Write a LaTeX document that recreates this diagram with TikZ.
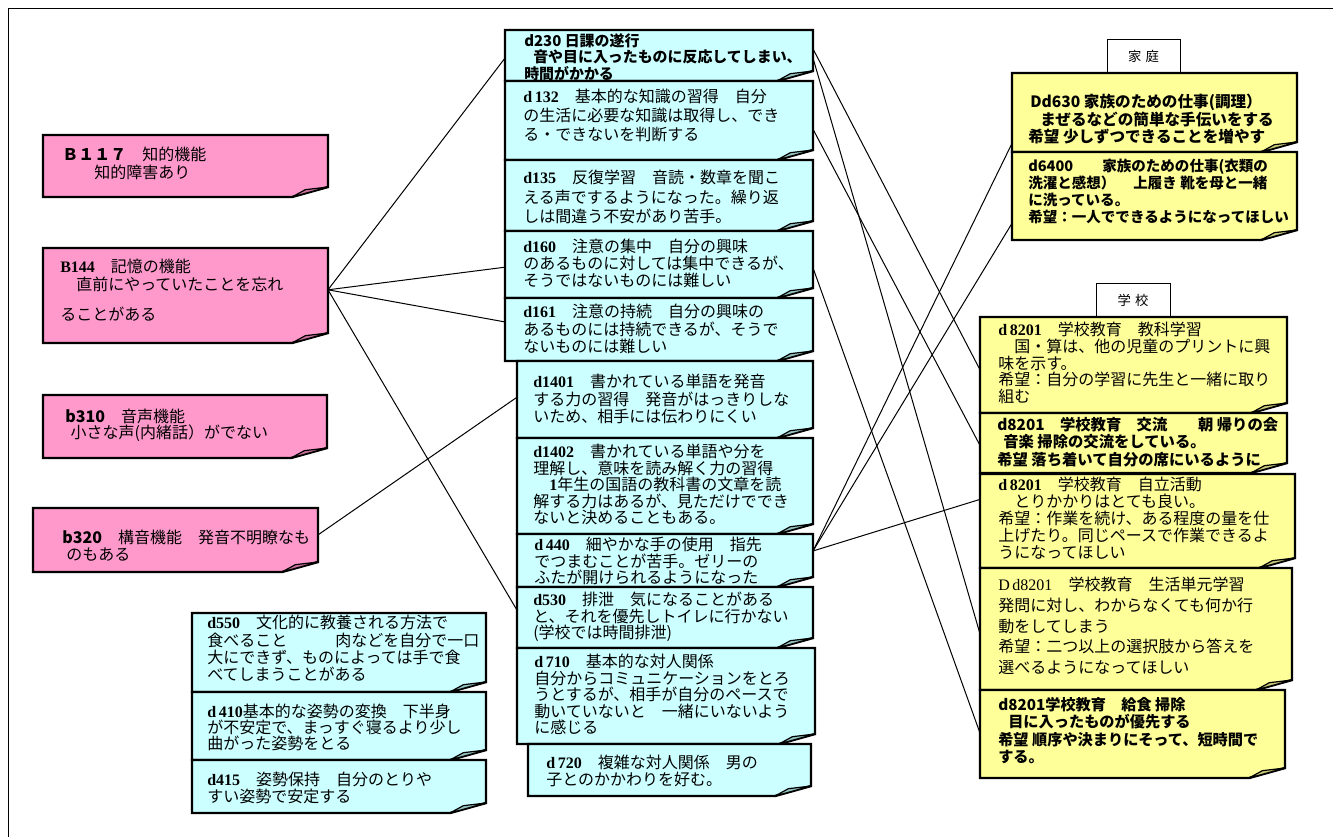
\documentclass[tikz,border=0pt]{standalone}
\usepackage{fontspec}
\setmainfont{Noto Sans CJK JP}
\newfontfamily\codeserif{Liberation Serif}
\usetikzlibrary{calc,fit}

\definecolor{cyanbox}{HTML}{CCFFFF}
\definecolor{cyanboxfold}{HTML}{94C2C2}
\definecolor{pinkbox}{HTML}{FF99CC}
\definecolor{pinkboxfold}{HTML}{C8709E}
\definecolor{yellowbox}{HTML}{FFFF99}
\definecolor{yellowboxfold}{HTML}{C8C878}

% bold serif item codes
\newcommand\cd[1]{{\codeserif\bfseries #1}}

\tikzset{
  notebody/.style={draw=black, line width=1.8pt, line join=miter},
  foldflap/.style={draw=black, line width=0.9pt, line join=round},
  conn/.style={draw=black, line width=0.75pt},
  txt/.style={anchor=north west, inner sep=0pt, align=left, text=black},
  mincho/.style={txt, font=\fontsize{12}{#1}\selectfont},
  gothic/.style n args={2}{txt, font=\fontsize{#1}{#2}\selectfont\bfseries},
  tag/.style={draw=black, line width=0.75pt, fill=white, inner sep=0pt,
              font=\fontsize{10}{12}\selectfont}
}

% sticky note with a folded bottom-right corner:
% name, left, top, right, bottom, colour
\newcommand\stickynote[6]{%
  \node[fit={(#2,#3) (#4,#5)}, inner sep=0pt, outer sep=0pt] (#1) {};
  \draw[notebody, fill=#6] (#1.north west) -- (#1.north east)
    -- ([yshift=7.5pt]#1.south east) -- ([xshift=-27pt]#1.south east)
    -- (#1.south west) -- cycle;
  \filldraw[foldflap, fill=#6fold] ([xshift=-27pt]#1.south east)
    -- ([xshift=-17pt,yshift=5.5pt]#1.south east)
    -- ([yshift=7.5pt]#1.south east) -- cycle;
}

\begin{document}
\begin{tikzpicture}[x=0.75pt, y=-0.75pt]
\useasboundingbox (0,0) rectangle (1333,836);
\fill[white] (0,0) rectangle (1333,836);
\draw[line width=0.75pt] (8,860) -- (8,8) -- (1360,8);

% ---------------- central column ----------------
\stickynote{d230}{505}{30}{813}{81}{cyanbox}
\stickynote{d132}{505}{81}{813}{160}{cyanbox}
\stickynote{d135}{505}{160}{813}{231}{cyanbox}
\stickynote{d160}{505}{231}{813}{298}{cyanbox}
\stickynote{d161}{505}{298}{813}{361}{cyanbox}
\stickynote{d1401}{517}{361}{813}{438}{cyanbox}
\stickynote{d1402}{517}{438}{813}{534}{cyanbox}
\stickynote{d440}{517}{534}{813}{587}{cyanbox}
\stickynote{d530}{517}{587}{813}{648}{cyanbox}
\stickynote{d710}{517}{648}{815}{744}{cyanbox}
\stickynote{d720}{528}{744}{811}{796}{cyanbox}

\node[gothic={11.2}{12.5pt}] (t230) at (524,33)
  {d230 日課の遂行\\\hspace*{6.75pt}音や目に入ったものに反応してしまい、\\時間がかかる};
\node[mincho=14.3pt] (t132) at (523,89)
  {\cd{d\,132}　基本的な知識の習得　自分\\の生活に必要な知識は取得し、でき\\る・できないを判断する};
\node[mincho=14.6pt] (t135) at (523,170)
  {\cd{d135}　反復学習　音読・数章を聞こ\\える声でするようになった。繰り返\\しは間違う不安があり苦手。};
\node[mincho=12.5pt] (t160) at (523,239)
  {\cd{d160}　注意の集中　自分の興味\\のあるものに対しては集中できるが、\\そうではないものには難しい};
\node[mincho=13pt] (t161) at (523,304)
  {\cd{d161}　注意の持続　自分の興味の\\あるものには持続できるが、そうで\\ないものには難しい};
\node[mincho=13pt] (t1401) at (533,374)
  {\cd{d1401}　書かれている単語を発音\\する力の習得　発音がはっきりしな\\いため、相手には伝わりにくい};
\node[mincho=12.4pt] (t1402) at (533,444)
  {\cd{d1402}　書かれている単語や分を\\理解し、意味を読み解く力の習得\\　\cd{1}年生の国語の教科書の文章を読\\解する力はあるが、見ただけででき\\ないと決めることもある。};
\node[mincho=12.4pt] (t440) at (534,537)
  {\cd{d\,440}　細やかな手の使用　指先\\でつまむことが苦手。ゼリーの\\ふたが開けられるようになった};
\node[mincho=12.4pt] (t530) at (533,592)
  {\cd{d530}　排泄　気になることがある\\と、それを優先しトイレに行かない\\(学校では時間排泄)};
\node[mincho=12.4pt] (t710) at (534,654)
  {\cd{d\,710}　基本的な対人関係\\自分からコミュニケーションをとろ\\うとするが、相手が自分のペースで\\動いていないと　一緒にいないよう\\に感じる};
\node[mincho=12.75pt] (t720) at (546,755)
  {\cd{d\,720}　複雑な対人関係　男の\\子とのかかわりを好む。};

% ---------------- lower left column ----------------
\stickynote{d550}{192}{613}{486}{692}{cyanbox}
\stickynote{d410}{192}{692}{486}{760}{cyanbox}
\stickynote{d415}{192}{760}{486}{813}{cyanbox}

\node[mincho=13pt] (t550) at (207,615)
  {\cd{d550}　文化的に教養される方法で\\食べること　　　肉などを自分で一口\\大にできず、ものによっては手で食\\べてしまうことがある};
\node[mincho=12pt] (t410) at (207,704)
  {\cd{d\,410}基本的な姿勢の変換　下半身\\が不安定で、まっすぐ寝るより少し\\曲がった姿勢をとる};
\node[mincho=12.75pt] (t415) at (207,772)
  {\cd{d415}　姿勢保持　自分のとりや\\すい姿勢で安定する};

% ---------------- body functions ----------------
\stickynote{B117}{43}{135}{328}{197}{pinkbox}
\stickynote{B144}{43}{248}{328}{343}{pinkbox}
\stickynote{b310}{43}{395}{327}{458}{pinkbox}
\stickynote{b320}{33}{508}{318}{572}{pinkbox}

\node[mincho=13.5pt] (t117) at (62,147)
  {{\bfseries Ｂ１１７}　知的機能\\　　知的障害あり};
\node[mincho=13.5pt] (t144) at (60,259)
  {\cd{B144}　記憶の機能\\　直前にやっていたことを忘れ\\[9pt]ることがある};
\node[mincho=12pt] (t310) at (65,409)
  {{\bfseries b310}　音声機能\\\hspace*{4pt}小さな声(内緒話）がでない};
\node[mincho=12.5pt] (t320) at (62,530)
  {{\bfseries b320}　構音機能　発音不明瞭なも\\\hspace*{3pt}のもある};

% ---------------- home ----------------
\node[tag, minimum width=54.75pt, minimum height=25.5pt] (katei) at (1143.5,56) {家\hspace{3pt}庭};
\stickynote{Dd630}{1012}{73}{1297}{152}{yellowbox}
\stickynote{d6400}{1012}{152}{1297}{240}{yellowbox}

\node[gothic={11.7}{12.4pt}] (t630) at (1030,94)
  {Dd630 家族のための仕事(調理）\\\hspace*{7.5pt}まぜるなどの簡単な手伝いをする\\\hspace*{-1.5pt}希望 少しずつできることを増やす};
\node[gothic={10.9}{12.75pt}] (t6400) at (1028,159)
  {d6400　　家族のための仕事(衣類の\\洗濯と感想）　 上履き 靴を母と一緒\\に洗っている。\\希望：一人でできるようになってほしい};

% ---------------- school ----------------
\node[tag, minimum width=55.5pt, minimum height=25.5pt] (gakko) at (1133,300) {学\hspace{3pt}校};
\stickynote{s8201a}{980}{317}{1287}{413}{yellowbox}
\stickynote{s8201b}{980}{413}{1287}{473}{yellowbox}
\stickynote{s8201c}{980}{474}{1295}{568}{yellowbox}
\stickynote{s8201d}{980}{568}{1292}{690}{yellowbox}
\stickynote{s8201e}{980}{690}{1285}{778}{yellowbox}

\node[mincho=12.5pt] (ta) at (998,322)
  {\cd{d\,8201}　学校教育　教科学習\\　国・算は、他の児童のプリントに興\\味を示す。\\希望：自分の学習に先生と一緒に取り\\組む};
\node[gothic={11.5}{13pt}] (tb) at (997,417)
  {d8201　学校教育　交流　　朝 帰りの会\\\hspace*{4.5pt}音楽 掃除の交流をしている。\\希望 落ち着いて自分の席にいるように};
\node[mincho=12.75pt] (tc) at (998,477)
  {\cd{d\,8201}　学校教育　自立活動\\　とりかかりはとても良い。\\希望：作業を続け、ある程度の量を仕\\上げたり。同じペースで作業できるよ\\うになってほしい};
\node[mincho=15.5pt] (td) at (998,577)
  {{\codeserif D\,d8201}　学校教育　生活単元学習\\発問に対し、わからなくても何か行\\動をしてしまう\\希望：二つ以上の選択肢から答えを\\選べるようになってほしい};
\node[gothic={11.4}{13pt}] (te) at (998,697)
  {d8201学校教育　給食 掃除\\\hspace*{7.5pt}目に入ったものが優先する\\希望 順序や決まりにそって、短時間で\\する。};

% ---------------- connectors ----------------
\draw[conn] ($(B144.north east)!0.44!(B144.south east)$) -- ($(d230.north west)!0.55!(d230.south west)$);
\draw[conn] ($(B144.north east)!0.44!(B144.south east)$) -- ($(d160.north west)!0.54!(d160.south west)$);
\draw[conn] ($(B144.north east)!0.44!(B144.south east)$) -- ($(d161.north west)!0.38!(d161.south west)$);
\draw[conn] ($(B144.north east)!0.44!(B144.south east)$) -- ($(d530.north west)!0.38!(d530.south west)$);
\draw[conn] ($(b320.north east)!0.42!(b320.south east)$) -- ($(d1401.north west)!0.47!(d1401.south west)$);

\draw[conn] ($(d230.north east)!0.37!(d230.south east)$) -- ($(s8201a.north west)!0.55!(s8201a.south west)$);
\draw[conn] ($(d230.north east)!0.55!(d230.south east)$) -- ($(s8201d.north west)!0.54!(s8201d.south west)$);
\draw[conn] ($(d132.north east)!0.61!(d132.south east)$) -- ($(s8201b.north west)!0.54!(s8201b.south west)$);
\draw[conn] ($(d160.north east)!0.55!(d160.south east)$) -- ($(s8201e.north west)!0.49!(s8201e.south west)$);
\draw[conn] ($(d440.north east)!0.32!(d440.south east)$) -- ($(Dd630.north west)!0.89!(Dd630.south west)$);
\draw[conn] ($(d440.north east)!0.32!(d440.south east)$) -- ($(d6400.north west)!0.81!(d6400.south west)$);
\draw[conn] ($(d440.north east)!0.32!(d440.south east)$) -- ($(s8201c.north west)!0.27!(s8201c.south west)$);
\end{tikzpicture}
\end{document}
